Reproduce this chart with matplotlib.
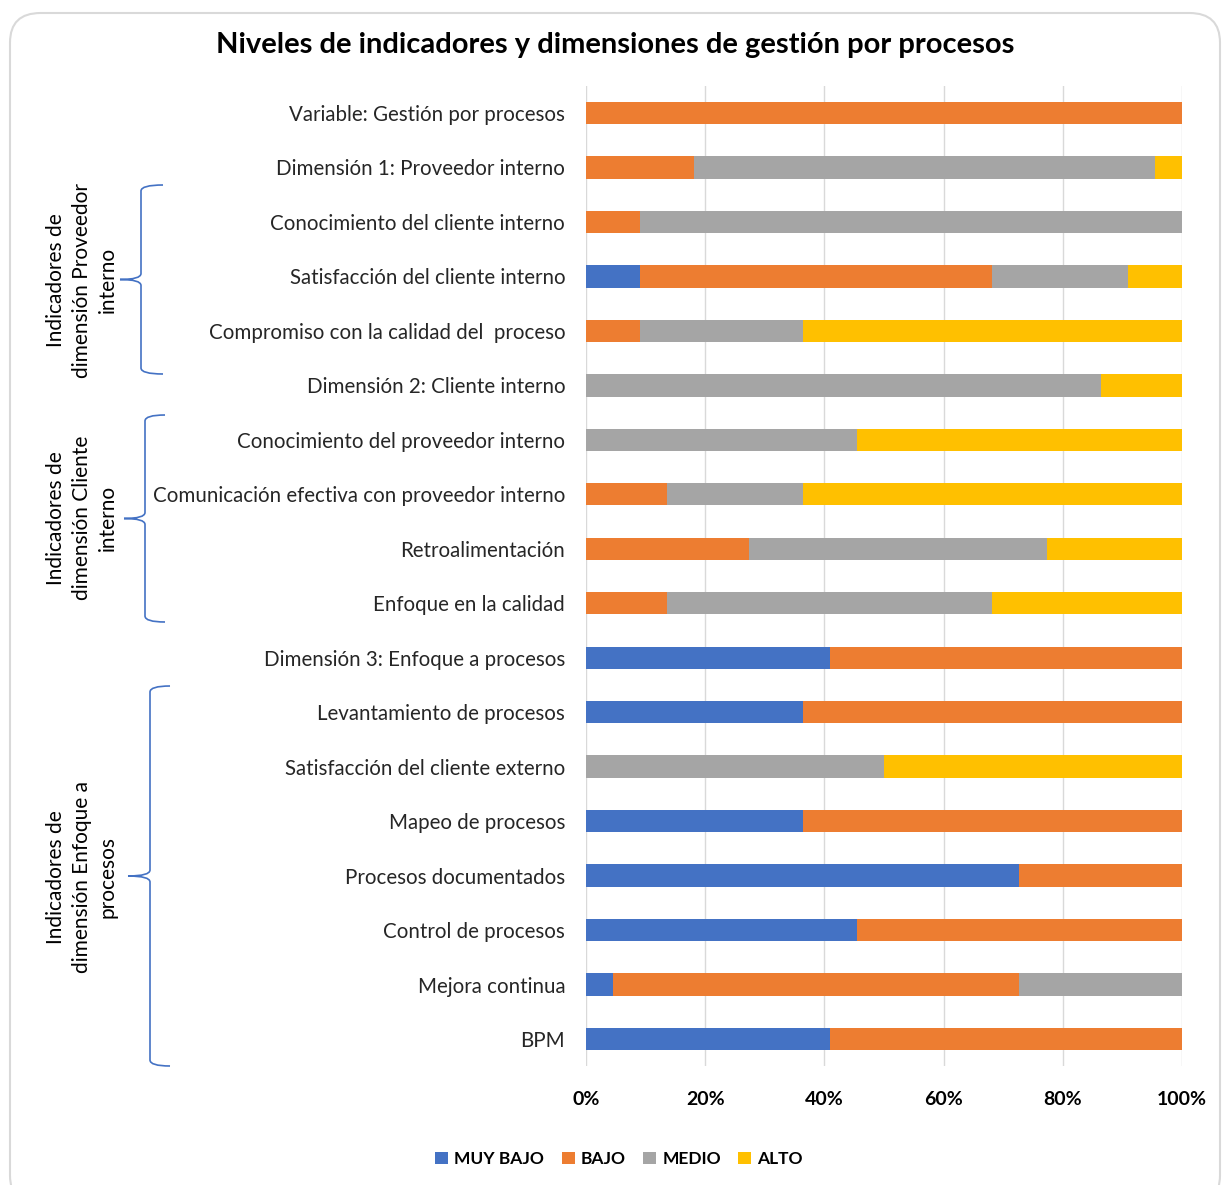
import matplotlib.pyplot as plt
from matplotlib.patches import FancyBboxPatch
from matplotlib.path import Path
from matplotlib.patches import PathPatch
from matplotlib.ticker import PercentFormatter

plt.rcParams["font.family"] = ["Lato", "DejaVu Sans"]

categories = [
    "Variable: Gestión por procesos",
    "Dimensión 1: Proveedor interno",
    "Conocimiento del cliente interno",
    "Satisfacción del cliente interno",
    "Compromiso con la calidad del  proceso",
    "Dimensión 2: Cliente interno",
    "Conocimiento del proveedor interno",
    "Comunicación efectiva con proveedor interno",
    "Retroalimentación",
    "Enfoque en la calidad",
    "Dimensión 3: Enfoque a procesos",
    "Levantamiento de procesos",
    "Satisfacción del cliente externo",
    "Mapeo de procesos",
    "Procesos documentados",
    "Control de procesos",
    "Mejora continua",
    "BPM",
]

muy_bajo = [0, 0, 0, 9.09, 0, 0, 0, 0, 0, 0, 40.91, 36.36, 0, 36.36, 72.73, 45.45, 4.55, 40.91]
bajo = [100, 18.18, 9.09, 59.09, 9.09, 0, 0, 13.64, 27.27, 13.64, 59.09, 63.64, 0, 63.64, 27.27, 54.55, 68.18, 59.09]
medio = [0, 77.27, 90.91, 22.73, 27.27, 86.36, 45.45, 22.73, 50.0, 54.55, 0, 0, 50.0, 0, 0, 0, 27.27, 0]
alto = [0, 4.55, 0, 9.09, 63.64, 13.64, 54.55, 63.64, 22.73, 31.82, 0, 0, 50.0, 0, 0, 0, 0, 0]

series = [("MUY BAJO", muy_bajo, "#4472C4"),
          ("BAJO", bajo, "#ED7D31"),
          ("MEDIO", medio, "#A5A5A5"),
          ("ALTO", alto, "#FFC000")]

# label, brace top, brace bottom, spine x, tip x, hook x, label x, label y (pixels)
groups = [
    ("Indicadores de\ndimensión Proveedor\ninterno", 185, 374, 141, 120, 163, 82, 280),
    ("Indicadores de\ndimensión Cliente\ninterno", 415, 622, 145, 124, 165, 82, 518),
    ("Indicadores de\ndimensión Enfoque a\nprocesos", 686, 1066, 150, 128, 170, 82, 877),
]

W, H = 1224, 1185
fig = plt.figure(figsize=(W / 100, H / 100), dpi=100, facecolor="white")

# rounded chart border
fig.patches.append(FancyBboxPatch((10 / W, -20 / H), 1210 / W, 1192 / H,
                                  boxstyle="round,pad=0,rounding_size=0.025",
                                  transform=fig.transFigure, facecolor="none",
                                  edgecolor="#D9D9D9", linewidth=1.5, zorder=-1))

ax = fig.add_axes([586 / W, 1 - 1066.25 / H, 596 / W, (1066.25 - 85.75) / H])
ax.set_facecolor("none")

y = list(range(len(categories)))
left = [0.0] * len(categories)
for name, vals, color in series:
    ax.barh(y, vals, left=left, height=0.41, color=color, label=name, zorder=3)
    left = [l + v for l, v in zip(left, vals)]

ax.set_ylim(len(categories) - 0.5, -0.5)
ax.set_xlim(0, 100)
ax.set_yticks(y)
ax.set_yticklabels(categories, fontsize=14.8, color="#262626")
ax.set_xticks([0, 20, 40, 60, 80, 100])
ax.xaxis.set_major_formatter(PercentFormatter(decimals=0))
for lbl in ax.get_xticklabels():
    lbl.set_fontweight("bold")
    lbl.set_fontsize(14)
ax.tick_params(axis="y", length=0, pad=15)
ax.tick_params(axis="x", length=0, pad=18)
ax.grid(axis="x", color="#D9D9D9", linewidth=1, zorder=0)
for s in ax.spines.values():
    s.set_visible(False)

fig.text(615 / W, 1 - 45 / H, "Niveles de indicadores y dimensiones de gestión por procesos",
         ha="center", va="center", fontsize=21, fontweight="bold", color="black")

fig.legend(loc="center", bbox_to_anchor=(619 / W, 1 - 1159 / H), ncol=4,
           frameon=False, handlelength=0.75, handleheight=0.75, handletextpad=0.35,
           columnspacing=1.0, prop={"weight": "bold", "size": 12.5})

# braces and group labels (figure pixel coords)
for text, top, bot, xv, xtip, xend, tx, ty in groups:
    mid = (top + bot) / 2
    r = 6
    verts = [
        (xend, top), (xv, top), (xv, top + r),
        (xv, mid - r), (xv, mid), (xtip, mid),
        (xv, mid), (xv, mid + r),
        (xv, bot - r), (xv, bot), (xend, bot),
    ]
    codes = [Path.MOVETO, Path.CURVE3, Path.CURVE3,
             Path.LINETO, Path.CURVE3, Path.CURVE3,
             Path.CURVE3, Path.CURVE3,
             Path.LINETO, Path.CURVE3, Path.CURVE3]
    verts = [(vx / W, 1 - vy / H) for vx, vy in verts]
    fig.patches.append(PathPatch(Path(verts, codes), transform=fig.transFigure,
                                 facecolor="none", edgecolor="#4472C4", linewidth=1.2))
    fig.text(tx / W, 1 - ty / H, text, rotation=90, ha="center", va="center",
             multialignment="center", fontsize=15, color="black", linespacing=1.35)

fig.savefig("out.png", dpi=100, facecolor="white")
